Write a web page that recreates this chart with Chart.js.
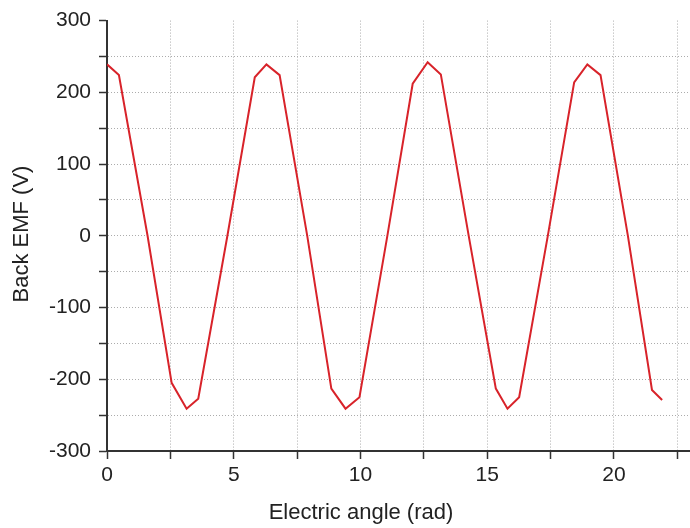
<!DOCTYPE html>
<html>
<head>
<meta charset="utf-8">
<script src="https://cdn.jsdelivr.net/npm/chart.js@4.4.1/dist/chart.umd.min.js"></script>
<style>
  html, body { margin: 0; padding: 0; background: #fff; }
  #wrap { width: 690px; height: 528px; }
</style>
</head>
<body>
<div id="wrap"><canvas id="chart" width="690" height="528"></canvas></div>
<script>
// electric angle (rad) and back EMF (V)
const angle = [0, 0.47, 1.6, 2.55, 3.14, 3.6, 4.75, 5.83,
  6.29, 6.81, 7.9, 8.85, 9.41, 9.96, 11.06, 12.06,
  12.65, 13.17, 14.27, 15.34, 15.8, 16.26, 17.39, 18.43,
  18.95, 19.47, 20.55, 21.5, 21.9];
const emf = [239, 224, 0, -205, -241, -227, 0, 221,
  239, 224, 0, -213, -241, -225, 0, 212,
  242, 225, 0, -213, -241, -225, 0, 214,
  239, 224, 0, -215, -229];

// axis ticks (minor + major) and which ones carry a label
const xTickValues = [0, 2.5, 5, 7.5, 10, 12.5, 15, 17.5, 20, 22.5];
const xTickLabels = [0, 5, 10, 15, 20];
const yTickValues = [-300, -250, -200, -150, -100, -50, 0, 50, 100, 150, 200, 250, 300];
const yTickLabels = [-300, -200, -100, 0, 100, 200, 300];

const xTitle = 'Electric angle (rad)';
const yTitle = 'Back EMF (V)';

const FONT = '"Liberation Sans", Arial, Helvetica, sans-serif';

// axis titles drawn by hand so they sit where the original has them
const axisTitles = {
  id: 'axisTitles',
  afterDraw(chart) {
    const ctx = chart.ctx;
    ctx.save();
    ctx.fillStyle = '#222';
    ctx.font = '22px ' + FONT;
    ctx.textAlign = 'center';
    ctx.textBaseline = 'middle';
    ctx.fillText(xTitle, 361, 513);
    ctx.translate(22, 234);
    ctx.rotate(-Math.PI / 2);
    ctx.fillText(yTitle, 0, 0);
    ctx.restore();
  }
};

const gridCommon = {
  lineWidth: 1,
  tickColor: '#333',
  tickWidth: 1.5,
  tickLength: 8
};

new Chart(document.getElementById('chart'), {
  type: 'line',
  data: {
    datasets: [{
      data: angle.map((a, i) => ({ x: a, y: emf[i] })),
      borderColor: '#d8232a',
      borderWidth: 2,
      pointRadius: 0,
      tension: 0,
      fill: false
    }]
  },
  options: {
    responsive: false,
    animation: false,
    devicePixelRatio: 1,
    layout: { padding: { top: 18, right: 0, left: 0, bottom: 0 } },
    plugins: { legend: { display: false }, tooltip: { enabled: false } },
    scales: {
      x: {
        type: 'linear',
        min: 0,
        max: 23,
        afterBuildTicks: s => { s.ticks = xTickValues.map(v => ({ value: v })); },
        afterFit: s => { s.height = 77; },
        ticks: {
          autoSkip: false,
          maxRotation: 0,
          padding: 4,
          color: '#222',
          font: { family: FONT, size: 21 },
          callback: v => xTickLabels.includes(v) ? String(v) : ''
        },
        grid: Object.assign({}, gridCommon, {
          color: c => (c.tick && c.tick.value === 0) ? 'rgba(0,0,0,0)' : '#acacac'
        }),
        border: { color: '#333', width: 2, dash: [1, 2] }
      },
      y: {
        type: 'linear',
        min: -300,
        max: 300,
        afterBuildTicks: s => { s.ticks = yTickValues.map(v => ({ value: v })); },
        afterFit: s => { s.width = 107; },
        ticks: {
          autoSkip: false,
          padding: 8,
          color: '#222',
          font: { family: FONT, size: 21 },
          callback: v => yTickLabels.includes(v) ? String(v) : ''
        },
        grid: Object.assign({}, gridCommon, {
          color: c => (c.tick && (c.tick.value === -300 || c.tick.value === 300)) ? 'rgba(0,0,0,0)' : '#acacac'
        }),
        border: { color: '#333', width: 2, dash: [1, 2] }
      }
    }
  },
  plugins: [axisTitles]
});
</script>
</body>
</html>
